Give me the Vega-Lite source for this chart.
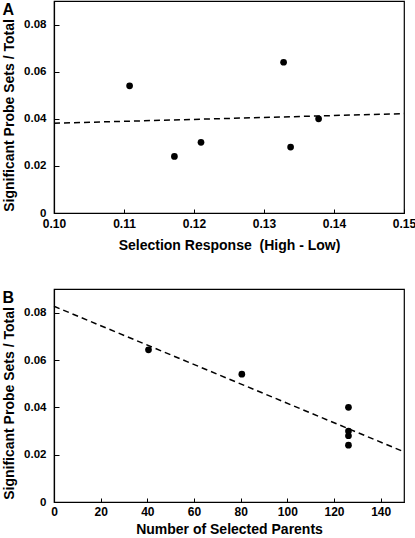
{
  "$schema": "https://vega.github.io/schema/vega-lite/v6.json",
  "padding": {"left": 2, "top": 0, "right": 0, "bottom": 0},
  "background": "white",
  "spacing": 34,
  "config": {
    "view": {"stroke": "black", "strokeWidth": 1.2},
    "font": "Liberation Sans, Arial",
    "axis": {
      "grid": false,
      "domainColor": "black",
      "domainWidth": 1.2,
      "tickColor": "black",
      "labelFont": "Liberation Sans, Arial",
      "labelFontWeight": "bold",
      "labelColor": "black",
      "labelFlush": false,
      "titleFont": "Liberation Sans, Arial",
      "titleFontWeight": "bold",
      "titleColor": "black"
    },
    "title": {
      "font": "Liberation Sans, Arial",
      "fontWeight": "bold",
      "fontSize": 16,
      "anchor": "start",
      "frame": "bounds",
      "color": "black"
    }
  },
  "datasets": {
    "ptsA": [
      {"sel": 0.1108, "frac": 0.054},
      {"sel": 0.1172, "frac": 0.024},
      {"sel": 0.1210, "frac": 0.030},
      {"sel": 0.1328, "frac": 0.064},
      {"sel": 0.1338, "frac": 0.028},
      {"sel": 0.1378, "frac": 0.040}
    ],
    "lineA": [
      {"sel": 0.10, "frac": 0.0381},
      {"sel": 0.15, "frac": 0.0422}
    ],
    "ptsB": [
      {"parents": 40.5, "frac": 0.0643},
      {"parents": 80.5, "frac": 0.054},
      {"parents": 126.2, "frac": 0.040},
      {"parents": 126.2, "frac": 0.030},
      {"parents": 126.2, "frac": 0.028},
      {"parents": 126.2, "frac": 0.024}
    ],
    "lineB": [
      {"parents": 0, "frac": 0.0827},
      {"parents": 150, "frac": 0.0212}
    ]
  },
  "vconcat": [
    {
      "title": {"text": "A", "offset": -17},
      "width": 350,
      "height": 212,
      "layer": [
        {
          "data": {"name": "lineA"},
          "mark": {"type": "line", "color": "black", "strokeWidth": 1.5, "strokeDash": [6, 4]},
          "encoding": {
            "x": {"field": "sel", "type": "quantitative"},
            "y": {"field": "frac", "type": "quantitative"}
          }
        },
        {
          "data": {"name": "ptsA"},
          "mark": {"type": "point", "filled": true, "color": "black", "opacity": 1, "size": 45},
          "encoding": {
            "x": {
              "field": "sel", "type": "quantitative",
              "scale": {"domain": [0.10, 0.15], "nice": false, "zero": false},
              "axis": {
                "title": "Selection Response\u00a0 (High - Low)",
                "values": [0.10, 0.11, 0.12, 0.13, 0.14, 0.15],
                "format": ".2f",
                "tickSize": -4,
                "labelFontSize": 12,
                "titleFontSize": 14,
                "labelPadding": 9.5,
                "titlePadding": 9
              }
            },
            "y": {
              "field": "frac", "type": "quantitative",
              "scale": {"domain": [0, 0.09], "nice": false},
              "axis": {
                "title": "Significant Probe Sets / Total",
                "titleY": 114,
                "values": [0, 0.01, 0.02, 0.03, 0.04, 0.05, 0.06, 0.07, 0.08],
                "labelExpr": "datum.value == 0 ? '0' : (round(datum.value * 100) % 2 == 1 ? '' : format(datum.value, '.2f'))",
                "tickSize": {"condition": {"test": "round(datum.value * 100) % 2 == 1", "value": -2.5}, "value": -5},
                "labelFontSize": 11.5,
                "titleFontSize": 14,
                "labelPadding": 13,
                "titlePadding": 7
              }
            }
          }
        }
      ]
    },
    {
      "title": {"text": "B", "offset": -17},
      "width": 350,
      "height": 213,
      "layer": [
        {
          "data": {"name": "lineB"},
          "mark": {"type": "line", "color": "black", "strokeWidth": 1.5, "strokeDash": [6, 4]},
          "encoding": {
            "x": {"field": "parents", "type": "quantitative"},
            "y": {"field": "frac", "type": "quantitative"}
          }
        },
        {
          "data": {"name": "ptsB"},
          "mark": {"type": "point", "filled": true, "color": "black", "opacity": 1, "size": 45},
          "encoding": {
            "x": {
              "field": "parents", "type": "quantitative",
              "scale": {"domain": [0, 150], "nice": false},
              "axis": {
                "title": "Number of Selected Parents",
                "values": [0, 20, 40, 60, 80, 100, 120, 140],
                "tickSize": -4,
                "labelFontSize": 12,
                "titleFontSize": 14,
                "labelPadding": 8.5,
                "titlePadding": 5
              }
            },
            "y": {
              "field": "frac", "type": "quantitative",
              "scale": {"domain": [0, 0.09], "nice": false},
              "axis": {
                "title": "Significant Probe Sets / Total",
                "titleY": 114,
                "values": [0, 0.01, 0.02, 0.03, 0.04, 0.05, 0.06, 0.07, 0.08],
                "labelExpr": "datum.value == 0 ? '0' : (round(datum.value * 100) % 2 == 1 ? '' : format(datum.value, '.2f'))",
                "tickSize": {"condition": {"test": "round(datum.value * 100) % 2 == 1", "value": -2.5}, "value": -5},
                "labelFontSize": 11.5,
                "titleFontSize": 14,
                "labelPadding": 13,
                "titlePadding": 7
              }
            }
          }
        }
      ]
    }
  ]
}
